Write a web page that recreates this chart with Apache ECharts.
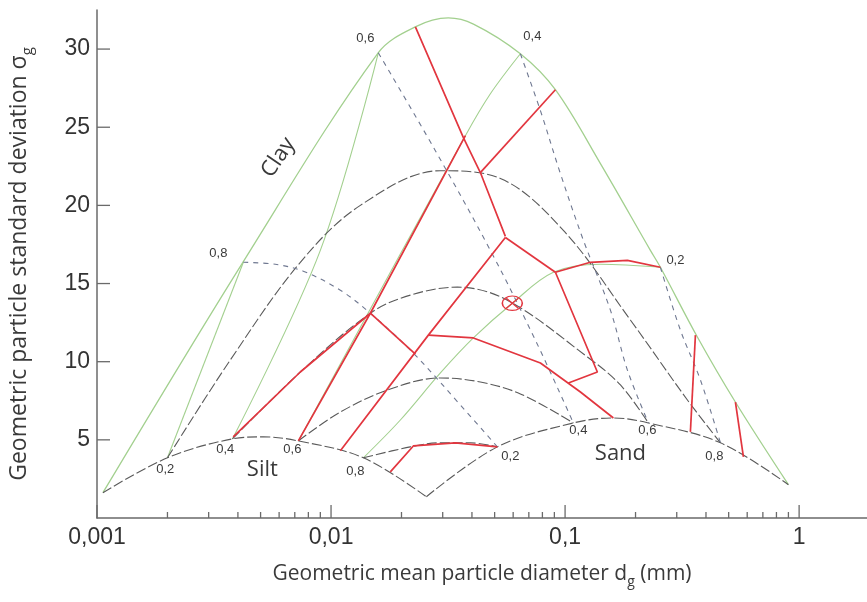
<!DOCTYPE html>
<html>
<head>
<meta charset="utf-8">
<script src="https://cdn.jsdelivr.net/npm/echarts@6/dist/echarts.min.js"></script>
<style>
  html, body { margin: 0; padding: 0; background: #fff; }
  #chart { width: 867px; height: 602px; }
</style>
</head>
<body>
<div id="chart"></div>
<script>
// axis ticks
const xMajorTicks = [0.001, 0.01, 0.1, 1]
const xMinorTicks = [0.002, 0.003, 0.004, 0.005, 0.006, 0.007, 0.008, 0.009,
  0.02, 0.03, 0.04, 0.05, 0.06, 0.07, 0.08, 0.09,
  0.2, 0.3, 0.4, 0.5, 0.6, 0.7, 0.8, 0.9]
const yTicks = [5, 10, 15, 20, 25, 30]

// triangle edges  [dg (mm), sigma_g]
const edgeNoSilt = [[0.00106, 1.62], [0.0042, 16.36], [0.0159, 29.76], [0.0229, 31.42], [0.0317, 31.99],
  [0.0406, 31.6], [0.0644, 29.7], [0.0909, 27.4], [0.1416, 22.67], [0.2315, 17.12], [0.2554, 16.04],
  [0.3675, 11.58], [0.534, 7.42], [0.900, 2.13]]
const edgeNoSand = [[0.00106, 1.62], [0.0020, 3.85], [0.00379, 5.06], [0.00514, 5.19], [0.00725, 4.93],
  [0.01374, 3.85], [0.02555, 1.36]]
const edgeNoClay = [[0.02555, 1.36], [0.05137, 4.55], [0.1085, 6.08], [0.1609, 6.40], [0.227, 6.08],
  [0.4611, 4.81], [0.900, 2.13]]

// constant silt (gray long dash)
const silt20 = [[0.0020, 3.85], [0.003712, 10.11], [0.007393, 16.36], [0.01334, 20.0], [0.02933, 22.22],
  [0.05291, 21.72], [0.09833, 18.40], [0.1901, 12.67], [0.3332, 7.55], [0.4611, 4.81]]
const silt40 = [[0.00379, 5.06], [0.00739, 9.34], [0.01472, 13.10], [0.02182, 14.26], [0.03466, 14.77],
  [0.05668, 13.93], [0.1246, 10.30], [0.1724, 8.51], [0.227, 6.08]]
const silt60 = [[0.00725, 4.93], [0.01096, 6.78], [0.01792, 8.25], [0.02933, 8.96], [0.04345, 8.70],
  [0.06442, 7.94], [0.1085, 6.08]]
const silt80 = [[0.01374, 3.85], [0.02182, 4.55], [0.02933, 4.81], [0.0395, 4.81], [0.05137, 4.55]]

// constant sand (short dash)
const sand20 = [[0.00422, 16.36], [0.00578, 16.23], [0.00761, 15.79], [0.01096, 14.57], [0.01472, 13.10],
  [0.02247, 10.55], [0.0357, 7.23], [0.05137, 4.55]]
const sand40 = [[0.01592, 29.76], [0.02791, 23.50], [0.04796, 17.12], [0.07466, 11.38], [0.1085, 6.08]]
const sand60 = [[0.06442, 29.70], [0.07845, 26.06], [0.09548, 22.04], [0.1198, 17.76], [0.1562, 13.3],
  [0.1846, 9.47], [0.227, 6.08]]
const sand80 = [[0.2554, 16.04], [0.311, 12.02], [0.3787, 8.83], [0.4611, 4.81]]

// constant clay (green)
const clay80 = [[0.0020, 3.85], [0.00422, 16.36]]
const clay60 = [[0.00379, 5.06], [0.009, 17.12], [0.01592, 29.76]]
const clay40 = [[0.00725, 4.93], [0.0375, 24.46], [0.04796, 27.14], [0.06442, 29.70]]
const clay20 = [[0.01374, 3.85], [0.01978, 6.27], [0.02933, 9.28], [0.04056, 11.52], [0.05954, 13.74],
  [0.08913, 15.72], [0.1416, 16.23], [0.2554, 16.04]]

// texture class boundaries (red)
const classBounds = [
  [[0.02293, 31.42], [0.03677, 24.33], [0.04345, 22.10], [0.05558, 18.02]],
  [[0.09091, 27.40], [0.04345, 22.10]],
  [[0.00725, 4.93], [0.01472, 13.10], [0.0375, 24.46]],
  [[0.01096, 4.30], [0.02605, 11.70], [0.05558, 17.95]],
  [[0.01472, 13.10], [0.02293, 10.49]],
  [[0.00382, 5.19], [0.00739, 9.34], [0.01472, 13.10]],
  [[0.05558, 17.95], [0.09091, 15.72]],
  [[0.09091, 15.72], [0.1283, 16.36], [0.1846, 16.48], [0.2554, 16.04]],
  [[0.09091, 15.72], [0.1374, 9.34], [0.1033, 8.64]],
  [[0.02605, 11.70], [0.04056, 11.52], [0.07845, 9.92], [0.1163, 8.06], [0.1609, 6.40]],
  [[0.01792, 2.95], [0.02247, 4.61], [0.03398, 4.81], [0.05137, 4.55]],
  [[0.3605, 11.70], [0.3431, 5.51]],
  [[0.5344, 7.42], [0.5781, 3.91]]
]

const samplePoint = [[0.0595, 13.74]]

// fraction labels [dg, sigma, text]
const isoLabels = [
  [0.0033, 16.94, '0,8'], [0.01402, 30.65, '0,6'], [0.07249, 30.84, '0,4'], [0.2961, 16.49, '0,2'],
  [0.001958, 3.08, '0,2'], [0.003534, 4.36, '0,4'], [0.006833, 4.36, '0,6'], [0.0127, 2.95, '0,8'],
  [0.05838, 3.91, '0,2'], [0.114, 5.63, '0,4'], [0.2247, 5.63, '0,6'], [0.4345, 3.91, '0,8']
]
const regionLabels = [[0.005086, 3.08, 'Silt'], [0.1724, 4.1, 'Sand'], [0.005955, 23.06, 'Clay']]

const GREEN = '#a3d08f'
const RED = '#e2363f'
const GRAY = '#5a5a5a'
const BLUE = '#6f7891'

const lineSeries = (data, color, width, type, smooth) => ({
  type: 'line',
  data: data,
  showSymbol: false,
  smooth: smooth ? 0.35 : false,
  silent: true,
  lineStyle: { color: color, width: width, type: type }
})

const chart = echarts.init(document.getElementById('chart'))

const series = [
  lineSeries(edgeNoSilt, GREEN, 1.3, 'solid', true),
  lineSeries(clay80, GREEN, 1.1, 'solid', false),
  lineSeries(clay60, GREEN, 1.1, 'solid', true),
  lineSeries(clay40, GREEN, 1.1, 'solid', true),
  lineSeries(clay20, GREEN, 1.1, 'solid', true),
  lineSeries(edgeNoSand, GRAY, 1.1, [10, 3], true),
  lineSeries(edgeNoClay, GRAY, 1.1, [10, 3], true),
  lineSeries(silt20, GRAY, 1.1, [10, 3], true),
  lineSeries(silt40, GRAY, 1.1, [10, 3], true),
  lineSeries(silt60, GRAY, 1.1, [10, 3], true),
  lineSeries(silt80, GRAY, 1.1, [10, 3], true),
  lineSeries(sand20, BLUE, 1.1, [5, 5], true),
  lineSeries(sand40, BLUE, 1.1, [5, 5], true),
  lineSeries(sand60, BLUE, 1.1, [5, 5], true),
  lineSeries(sand80, BLUE, 1.1, [5, 5], true)
]
classBounds.forEach(b => series.push(lineSeries(b, RED, 1.7, 'solid', false)))

// sample marker
series.push({
  type: 'custom',
  silent: true,
  data: samplePoint,
  renderItem: (params, api) => {
    const c = api.coord([api.value(0), api.value(1)])
    return {
      type: 'group', x: c[0], y: c[1],
      children: [
        { type: 'circle', shape: { cx: 0, cy: 0, r: 10 }, scaleY: 0.72, style: { fill: 'none', stroke: RED, lineWidth: 1.6 } },
        { type: 'line', shape: { x1: -6, y1: -5, x2: 6, y2: 5 }, style: { stroke: RED, lineWidth: 1.4 } },
        { type: 'line', shape: { x1: -6, y1: 5, x2: 6, y2: -5 }, style: { stroke: RED, lineWidth: 1.4 } }
      ]
    }
  },
  z: 5
})

// fraction labels
series.push({
  type: 'custom',
  silent: true,
  data: isoLabels.map(l => [l[0], l[1]]),
  renderItem: (params, api) => {
    const c = api.coord([api.value(0), api.value(1)])
    return {
      type: 'text', x: c[0], y: c[1],
      style: { text: isoLabels[params.dataIndex][2], font: '13px "Liberation Sans", Arial', fill: '#3a3a3a', align: 'center', verticalAlign: 'middle' }
    }
  },
  z: 6
})
series.push({
  type: 'custom',
  silent: true,
  data: regionLabels.map(l => [l[0], l[1]]),
  renderItem: (params, api) => {
    const c = api.coord([api.value(0), api.value(1)])
    const txt = regionLabels[params.dataIndex][2]
    return {
      type: 'text', x: c[0], y: c[1],
      rotation: txt === 'Clay' ? 56 * Math.PI / 180 : 0,
      style: { text: txt, font: '22px "Open Sans"', fill: '#3a3a3a', align: 'center', verticalAlign: 'middle' }
    }
  },
  z: 6
})

// axis ticks drawn inside the plot
const tickSeries = (data, isX, len) => ({
  type: 'custom',
  silent: true,
  clip: false,
  data: data.map(v => isX ? [v, 0] : [0.001, v]),
  renderItem: (params, api) => {
    const c = api.coord([api.value(0), api.value(1)])
    return {
      type: 'line',
      shape: isX ? { x1: c[0], y1: c[1], x2: c[0], y2: c[1] - len } : { x1: c[0], y1: c[1], x2: c[0] + len, y2: c[1] },
      style: { stroke: '#6a6a6a', lineWidth: 1.3 }
    }
  },
  z: 7
})
series.push(tickSeries(xMajorTicks, true, 13))
series.push(tickSeries(xMinorTicks, true, 6))
series.push(tickSeries(yTicks, false, 13))

chart.setOption({
  animation: false,
  grid: { left: 97, right: 0, top: 10, bottom: 84 },
  xAxis: {
    type: 'log',
    logBase: 10,
    min: 0.001,
    max: 1.95,
    name: 'Geometric mean particle diameter d{s|g} (mm)',
    nameLocation: 'middle',
    nameGap: 46,
    nameTextStyle: {
      fontFamily: 'Open Sans', fontSize: 21, color: '#3a3a3a',
      rich: { s: { fontFamily: 'Open Sans', fontSize: 14, color: '#3a3a3a', verticalAlign: 'bottom', padding: [0, 0, -4, 0] } }
    },
    axisLine: { lineStyle: { color: '#6a6a6a', width: 1.5 } },
    axisTick: { show: false },
    splitLine: { show: false },
    axisLabel: {
      showMaxLabel: false,
      fontFamily: 'Liberation Sans', fontSize: 23, color: '#333', margin: 8,
      formatter: v => {
        const l = Math.log10(v)
        return Math.abs(l - Math.round(l)) < 1e-6 ? String(v).replace('.', ',') : ''
      }
    }
  },
  yAxis: {
    type: 'value',
    min: 0,
    max: 32.5,
    interval: 5,
    name: 'Geometric particle standard deviation σ{s|g}',
    nameLocation: 'middle',
    nameGap: 66,
    nameTextStyle: {
      fontFamily: 'Open Sans', fontSize: 23, color: '#3a3a3a',
      rich: { s: { fontFamily: 'Open Sans', fontSize: 15, color: '#3a3a3a', verticalAlign: 'bottom', padding: [0, 0, -4, 0] } }
    },
    axisLine: { show: true, lineStyle: { color: '#6a6a6a', width: 1.5 } },
    axisTick: { show: false },
    splitLine: { show: false },
    axisLabel: {
      fontFamily: 'Liberation Sans', fontSize: 23, color: '#333', margin: 7,
      formatter: v => (v > 0 && v % 5 === 0 ? String(v) : '')
    }
  },
  series: series
})
</script>
</body>
</html>
